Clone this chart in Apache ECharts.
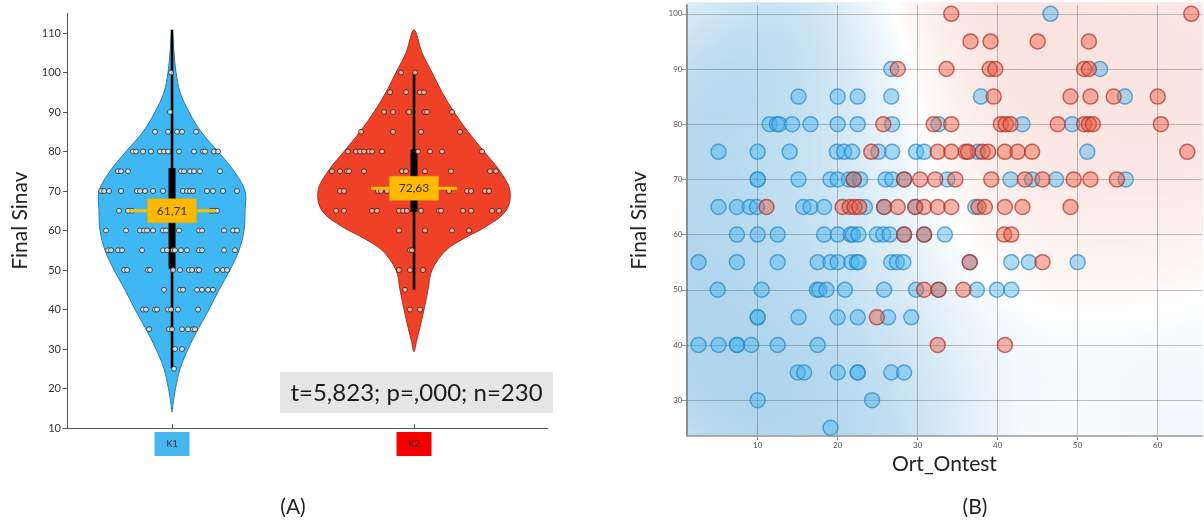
<!DOCTYPE html>
<html><head><meta charset="utf-8">
<script src="https://cdn.jsdelivr.net/npm/echarts@6/dist/echarts.min.js"></script>
<style>html,body{margin:0;padding:0;background:#fff}#c{width:1204px;height:523px}</style>
</head><body><div id="c"></div>
<script>
// ---------- Panel A: violin data ----------
const groups = ['K1', 'K2'];
const groupFill = ['#3fb7f3', '#ee4128'];
const groupStroke = ['#2b79a8', '#a8301e'];
const labelBoxColors = ['#45b6ee', '#f40000'];
const meanLabels = ['61,71', '72,63'];
const meanLevel = [65, 70.7];
const boxQ = [[50.3, 75.8], [64.7, 80.5]];
const whisker = [[25.2, 110.8], [45, 100]];
// [value, density half-width]
const k1Profile = [[14,0],[16,1],[20,3.5],[25,8],[30,16],[35,26],[40,37],[45,47],[50,58],[55,67],[60,72],[65,73],[70,73],[75,62],[80,46],[85,29],[90,17],[95,8],[100,4],[105,2],[110.8,0]];
const k2Profile = [[29.3,0],[32,2.5],[35,5.5],[40,10],[45,14],[50,18],[55,32],[58,50],[61,72],[65,92],[70,96],[75,86],[80,70],[85,54],[90,40],[95,28],[100,18],[105,8],[110.8,0]];
// jittered observations: [offset, value]
const k1Dots = [
 [-1,100],[-2,90],
 [-17,85],[-4,85],[5,85],[10,85],[24,85],
 [-39,80],[-36,80],[-29,80],[-21,80],[-12,80],[-8,80],[-4,80],[7,80],[22,80],[31,80],[33,80],[42,80],[46,80],
 [-54,75],[-51,75],[-44,75],[9,75],[12,75],[18,75],[22,75],[28,75],[48,75],
 [-71,70],[-68,70],[-63,70],[-51,70],[-35,70],[-32,70],[-27,70],[-19,70],[-9,70],[11,70],[15,70],[18,70],[21,70],[35,70],[41,70],[51,70],[65,70],
 [-53,65],[-44,65],[-40,65],[39,65],[42,65],[45,65],
 [-66,60],[-46,60],[-32,60],[-28,60],[-25,60],[-19,60],[-9,60],[-6,60],[7,60],[27,60],[30,60],[52,60],[61,60],[65,60],
 [-64,55],[-61,55],[-54,55],[-50,55],[-30,55],[-9,55],[-5,55],[1,55],[3,55],[9,55],[15,55],[27,55],[30,55],[52,55],[63,55],
 [-48,50],[-45,50],[-24,50],[-22,50],[1,50],[8,50],[17,50],[20,50],[25,50],[27,50],[45,50],[51,50],[55,50],
 [-8,45],[8,45],[11,45],[25,45],[30,45],[36,45],[41,45],
 [-29,40],[-26,40],[-17,40],[-15,40],[-4,40],[-1,40],[6,40],[26,40],
 [-23,35],[-3,35],[0,35],[10,35],[16,35],[21,35],[23,35],
 [3,30],[10,30],[2,25]
];
const k2Dots = [
 [-13,100],[1,100],
 [-24,95],[-8,95],[6,95],[10,95],
 [-30,90],[-21,90],[-5,90],[11,90],[13,90],[38,90],
 [-53,85],[-21,85],[7,85],[46,85],
 [-66,80],[-58,80],[-54,80],[-50,80],[-45,80],[-42,80],[-32,80],[4,80],[16,80],[28,80],[68,80],
 [-82,75],[-74,75],[-67,75],[-65,75],[-50,75],[-12,75],[-8,75],[11,75],[37,75],[76,75],[82,75],
 [-74,70],[-70,70],[-36,70],[-33,70],[-27,70],[35,70],[53,70],[57,70],[71,70],[75,70],
 [-78,65],[-70,65],[-42,65],[-37,65],[-15,65],[-11,65],[-7,65],[7,65],[25,65],[27,65],[49,65],[57,65],[78,65],[85,65],
 [-15,60],[11,60],[38,60],[55,60],
 [-4,55],[-2,55],
 [-15,50],[-4,50],[9,50],
 [-9,45],
 [-4,40],[6,40]
];
const violinTicks = [10,20,30,40,50,60,70,80,90,100,110];
const statText = 't=5,823; p=,000; n=230';

// ---------- Panel B: scatter data [Ort_Ontest, Final Sinav] ----------
const k1Points = [
 [46.6,100],
 [26.7,90],[52.8,90],
 [15.1,85],[20.0,85],[22.5,85],[26.7,85],[37.9,85],[55.9,85],
 [11.5,80],[12.4,80],[12.7,80],[14.3,80],[16.6,80],[20.0,80],[22.5,80],[26.8,80],[32.6,80],[43.1,80],[49.3,80],
 [5.1,75],[10.0,75],[14.0,75],[19.9,75],[20.8,75],[21.8,75],[25.1,75],[26.8,75],[29.8,75],[30.8,75],[37.5,75],[51.2,75],
 [10.0,70],[10.0,70],[15.1,70],[19.1,70],[20.0,70],[21.4,70],[22.0,70],[22.8,70],[26.0,70],[26.8,70],[28.3,70],[33.7,70],[41.6,70],[44.3,70],[47.3,70],[56.0,70],
 [5.1,65],[7.4,65],[9.0,65],[9.9,65],[15.7,65],[16.6,65],[18.3,65],[23.4,65],[25.8,65],[29.7,65],[37.2,65],
 [7.4,60],[10.0,60],[12.5,60],[18.3,60],[20.0,60],[21.6,60],[21.9,60],[22.6,60],[24.9,60],[25.7,60],[26.5,60],[28.3,60],[30.8,60],[33.4,60],
 [2.6,55],[7.4,55],[12.5,55],[17.5,55],[19.1,55],[20.0,55],[21.7,55],[22.4,55],[22.6,55],[26.7,55],[27.4,55],[28.2,55],[36.5,55],[41.7,55],[43.9,55],[50.0,55],
 [5.0,50],[10.5,50],[17.4,50],[17.7,50],[18.6,50],[20.9,50],[25.8,50],[29.8,50],[32.6,50],[37.4,50],[39.9,50],[41.7,50],
 [10.0,45],[10.0,45],[15.1,45],[20.0,45],[22.5,45],[26.3,45],[29.2,45],
 [2.6,40],[5.1,40],[7.4,40],[7.4,40],[9.2,40],[12.5,40],[17.5,40],
 [15.0,35],[15.8,35],[20.0,35],[22.5,35],[22.5,35],[26.7,35],[28.3,35],
 [10.0,30],[24.3,30],
 [19.1,25]
];
const k2Points = [
 [34.2,100],[64.2,100],
 [36.6,95],[39.1,95],[45.0,95],[51.4,95],
 [27.5,90],[33.6,90],[39.0,90],[39.7,90],[50.8,90],[51.4,90],
 [39.5,85],[49.1,85],[51.6,85],[54.5,85],[60.0,85],
 [25.7,80],[32.0,80],[34.2,80],[40.4,80],[41.0,80],[41.6,80],[47.5,80],[50.8,80],[51.4,80],[51.9,80],[60.4,80],
 [24.2,75],[32.5,75],[34.2,75],[36.0,75],[36.3,75],[38.1,75],[38.8,75],[40.9,75],[42.5,75],[44.3,75],[63.7,75],
 [22.0,70],[28.3,70],[30.3,70],[32.2,70],[34.7,70],[39.2,70],[43.4,70],[45.6,70],[49.5,70],[51.6,70],[54.9,70],
 [11.1,65],[20.6,65],[21.5,65],[22.1,65],[22.7,65],[25.8,65],[27.5,65],[29.7,65],[30.8,65],[32.5,65],[34.2,65],[37.6,65],[38.4,65],[40.9,65],[43.1,65],[49.1,65],
 [28.3,60],[30.8,60],[40.8,60],[41.7,60],
 [36.5,55],[45.6,55],
 [30.8,50],[32.6,50],[35.7,50],
 [24.9,45],
 [32.5,40],[40.9,40]
];
const scatterXTicks = [10,20,30,40,50,60];
const scatterYTicks = [30,40,50,60,70,80,90,100];

// ---------- derived ----------
const W = 1 / 242; // density units -> x-axis units
const profiles = [k1Profile, k2Profile];
const X_MIN = 1.1, X_MAX = 65.6, Y_MIN = 23.5, Y_MAX = 101.6;

// class-density background (kernel smoothed class share with class-frequency prior)
const bgCells = [], bgColors = [];
const XS = 0.5, YS = 0.5, hx = 8.5, hy = 13, prior = 0.004;
const blueFull = [168, 210, 236], redFull = [246, 202, 194];
for (let x = X_MIN; x < X_MAX; x += XS) {
  for (let y = Y_MIN; y < Y_MAX; y += YS) {
    const cx = x + XS / 2, cy = y + YS / 2;
    let sb = prior * k1Points.length, sr = prior * k2Points.length;
    for (const p of k1Points) { const dx = (p[0] - cx) / hx, dy = (p[1] - cy) / hy; sb += Math.exp(-0.5 * (dx * dx + dy * dy)); }
    for (const p of k2Points) { const dx = (p[0] - cx) / hx, dy = (p[1] - cy) / hy; sr += Math.exp(-0.5 * (dx * dx + dy * dy)); }
    const share = (sr - sb) / (sr + sb);
    const dens = 1 - Math.exp(-(sr + sb) / 4);
    const a = Math.min(1, Math.pow(Math.abs(share), 0.9) * (0.4 + 0.6 * dens));
    const full = share < 0 ? blueFull : redFull;
    const col = full.map(v => Math.round(255 + (v - 255) * a));
    bgCells.push([x, y]);
    bgColors.push('rgb(' + col.join(',') + ')');
  }
}

const chart = echarts.init(document.getElementById('c'), null, { renderer: 'canvas' });
const FONT = 'Lato, "Open Sans", sans-serif';

chart.setOption({
  animation: false,
  grid: [
    { left: 67, top: 13.25, width: 481, height: 414.75 },
    { left: 686.5, top: 5, width: 516, height: 431 }
  ],
  xAxis: [
    { type: 'value', gridIndex: 0, min: 0.566, max: 2.5537,
      axisLine: { lineStyle: { color: '#555' } },
      axisTick: { customValues: [1, 2], inside: true, length: 4, lineStyle: { color: '#555' } },
      axisLabel: { customValues: [1, 2], margin: 4,
        formatter: v => '{k' + v + '|' + groups[v - 1] + '}',
        rich: {
          k1: { backgroundColor: labelBoxColors[0], width: 35, height: 24, lineHeight: 24, align: 'center', fontSize: 9, color: '#333', fontFamily: FONT },
          k2: { backgroundColor: labelBoxColors[1], width: 35, height: 24, lineHeight: 24, align: 'center', fontSize: 9, color: '#333', fontFamily: FONT }
        } },
      splitLine: { show: false } },
    { type: 'value', gridIndex: 1, min: X_MIN, max: X_MAX,
      axisLine: { lineStyle: { color: '#999', width: 1.5 } },
      axisTick: { customValues: scatterXTicks, length: 4, lineStyle: { color: '#999' } },
      axisLabel: { customValues: scatterXTicks, fontSize: 8, color: '#555', margin: 5, fontFamily: FONT },
      splitLine: { show: true, lineStyle: { color: 'rgba(70,70,70,0.33)', width: 1 } },
      name: 'Ort_Ontest', nameLocation: 'middle', nameGap: 17,
      nameTextStyle: { fontSize: 21, color: '#222', fontFamily: FONT } }
  ],
  yAxis: [
    { type: 'value', gridIndex: 0, min: 10, max: 115,
      axisLine: { show: true, lineStyle: { color: '#555' } },
      axisTick: { show: true, customValues: violinTicks, length: 4, lineStyle: { color: '#555' } },
      axisLabel: { customValues: violinTicks, fontSize: 11, color: '#333', margin: 6, fontFamily: FONT },
      splitLine: { show: false },
      name: 'Final Sinav', nameLocation: 'middle', nameGap: 36,
      nameTextStyle: { fontSize: 21, color: '#222', fontFamily: FONT } },
    { type: 'value', gridIndex: 1, min: Y_MIN, max: Y_MAX,
      axisLine: { show: true, lineStyle: { color: '#777', width: 1.5 } },
      axisTick: { show: true, customValues: scatterYTicks, length: 5, lineStyle: { color: '#999' } },
      axisLabel: { customValues: scatterYTicks, fontSize: 8, color: '#555', margin: 4, fontFamily: FONT },
      splitLine: { show: true, lineStyle: { color: 'rgba(70,70,70,0.33)', width: 1 } },
      name: 'Final Sinav', nameLocation: 'middle', nameGap: 37,
      nameTextStyle: { fontSize: 21, color: '#222', fontFamily: FONT } }
  ],
  graphic: [
    { type: 'rect', x: 280, y: 372, shape: { width: 273, height: 41 }, style: { fill: '#e6e6e6' }, z: 1 },
    { type: 'text', x: 416.5, y: 393, style: { text: statText, align: 'center', verticalAlign: 'middle', fontSize: 24, fill: '#1a1a1a', fontFamily: FONT }, z: 2 },
    { type: 'text', x: 293, y: 507, style: { text: '(A)', align: 'center', verticalAlign: 'middle', fontSize: 21, fill: '#222', fontFamily: FONT } },
    { type: 'text', x: 975, y: 507, style: { text: '(B)', align: 'center', verticalAlign: 'middle', fontSize: 21, fill: '#222', fontFamily: FONT } }
  ],
  series: [
    { type: 'custom', xAxisIndex: 1, yAxisIndex: 1, z: -1, silent: true,
      data: bgCells,
      renderItem: (params, api) => {
        const p = api.coord([api.value(0), api.value(1) + YS]);
        const s = api.size([XS, YS]);
        return { type: 'rect', shape: { x: p[0] - 0.5, y: p[1] - 0.5, width: s[0] + 1, height: s[1] + 1 }, style: { fill: bgColors[params.dataIndex] } };
      } },
    { type: 'custom', xAxisIndex: 0, yAxisIndex: 0, z: 2, silent: true,
      data: [[0], [1]],
      renderItem: (params, api) => {
        const i = api.value(0), c = i + 1, prof = profiles[i];
        const pts = [];
        prof.forEach(d => pts.push(api.coord([c + d[1] * W, d[0]])));
        for (let k = prof.length - 2; k >= 1; k--) pts.push(api.coord([c - prof[k][1] * W, prof[k][0]]));
        return { type: 'polygon', shape: { points: pts, smooth: 0.35 }, style: { fill: groupFill[i], stroke: groupStroke[i], lineWidth: 1 } };
      } },
    { type: 'custom', xAxisIndex: 0, yAxisIndex: 0, z: 3, silent: true,
      data: [[0], [1]],
      renderItem: (params, api) => {
        const i = api.value(0), c = i + 1;
        const wt = api.coord([c, whisker[i][1]]), wb = api.coord([c, whisker[i][0]]);
        const q3 = api.coord([c, boxQ[i][1]]), q1 = api.coord([c, boxQ[i][0]]);
        return { type: 'group', children: [
          { type: 'line', shape: { x1: wt[0], y1: wt[1], x2: wb[0], y2: wb[1] }, style: { stroke: '#000', lineWidth: 2.6 } },
          { type: 'rect', shape: { x: q3[0] - 3.5, y: q3[1], width: 7, height: q1[1] - q3[1] }, style: { fill: '#000' } }
        ] };
      } },
    { type: 'scatter', xAxisIndex: 0, yAxisIndex: 0, z: 4, symbolSize: 5, silent: true,
      data: k1Dots.map(d => [1 + d[0] * W, d[1]]),
      itemStyle: { color: '#efefef', borderColor: '#2a2a2a', borderWidth: 1 } },
    { type: 'scatter', xAxisIndex: 0, yAxisIndex: 0, z: 4, symbolSize: 5, silent: true,
      data: k2Dots.map(d => [2 + d[0] * W, d[1]]),
      itemStyle: { color: '#f6c7b8', borderColor: '#3a1a12', borderWidth: 1 } },
    { type: 'custom', xAxisIndex: 0, yAxisIndex: 0, z: 5, silent: true,
      data: [[0], [1]],
      renderItem: (params, api) => {
        const i = api.value(0), c = i + 1;
        const l = api.coord([c - 0.178, meanLevel[i]]), r = api.coord([c + 0.178, meanLevel[i]]), m = api.coord([c, meanLevel[i]]);
        return { type: 'group', children: [
          { type: 'line', shape: { x1: l[0], y1: l[1], x2: r[0], y2: r[1] }, style: { stroke: '#f6c200', lineWidth: 3 } },
          { type: 'rect', shape: { x: m[0] - 24.5, y: m[1] - 12, width: 49, height: 24 }, style: { fill: '#ffb900', stroke: '#e8a800', lineWidth: 0.5 } },
          { type: 'text', x: m[0], y: m[1], style: { text: meanLabels[i], align: 'center', verticalAlign: 'middle', fontSize: 12, fill: '#333', fontFamily: FONT } }
        ] };
      } },
    { type: 'scatter', xAxisIndex: 1, yAxisIndex: 1, z: 4, symbolSize: 15, silent: true,
      data: k1Points,
      itemStyle: { color: 'rgba(72,180,238,0.55)', borderColor: 'rgba(40,135,195,0.85)', borderWidth: 1.5 } },
    { type: 'scatter', xAxisIndex: 1, yAxisIndex: 1, z: 5, symbolSize: 15, silent: true,
      data: k2Points,
      itemStyle: { color: 'rgba(236,88,64,0.55)', borderColor: 'rgba(170,45,35,0.85)', borderWidth: 1.5 } }
  ]
});
</script>
</body></html>
